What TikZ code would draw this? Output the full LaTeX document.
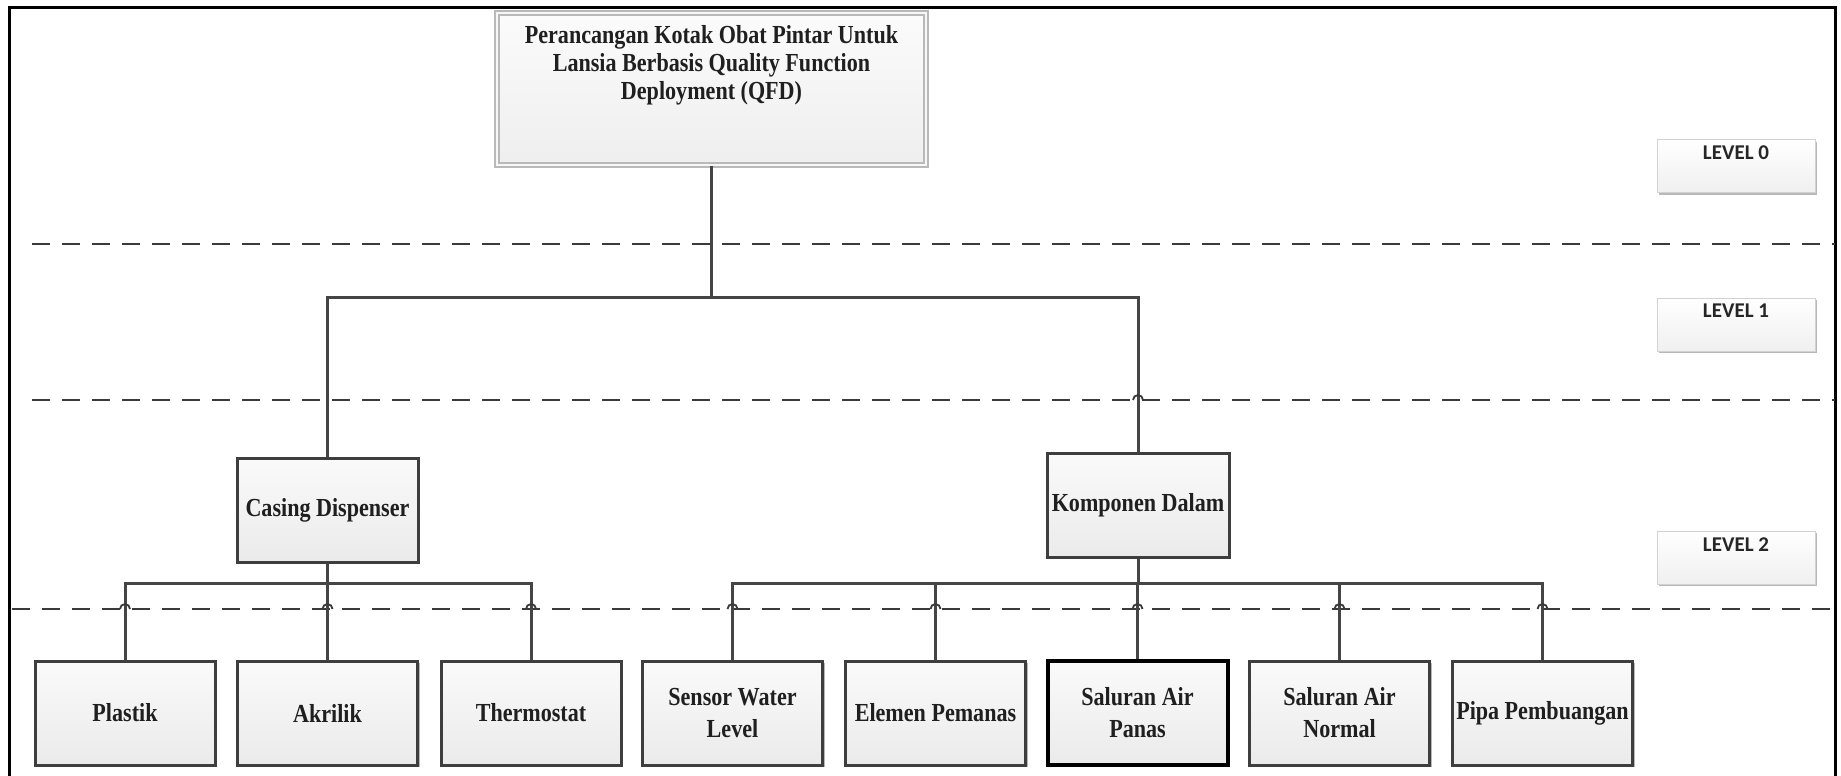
\documentclass[tikz,border=0pt]{standalone}
\usepackage{fontspec}
\newfontfamily\boxfont[FakeStretch=0.85]{Liberation Serif}
\newfontfamily\levelfont{Carlito}
\usetikzlibrary{shadows}
\definecolor{edgegray}{HTML}{3E3E3E}
\definecolor{linegray}{HTML}{454545}
\definecolor{dashgray}{HTML}{3A3A3A}
\begin{document}
\begin{tikzpicture}[x=0.5pt, y=-0.5pt,
  softshadow/.style={drop shadow={shadow xshift=1.2pt, shadow yshift=-1.2pt, opacity=0.28, fill=black}},
  box/.style={draw=edgegray, line width=1.5pt, top color=gray!4, bottom color=gray!16,
    softshadow, inner xsep=1pt, inner ysep=1pt, align=center, text=black!88,
    font=\boxfont\bfseries\fontsize{13}{16}\selectfont},
  leafbox/.style={box, minimum width=90pt, minimum height=52pt},
  midbox/.style={box, minimum width=90.5pt, minimum height=52pt},
  topbox/.style={draw=gray!55, line width=0.7pt, double=gray!6, double distance=1.2pt,
    top color=gray!3, bottom color=gray!13, softshadow,
    minimum width=214.5pt, minimum height=76pt},
  toptext/.style={align=center, inner sep=0pt, text=black!88,
    font=\boxfont\bfseries\fontsize{13}{14}\selectfont},
  lvbox/.style={draw=gray!35, line width=0.5pt, top color=white, bottom color=gray!12,
    softshadow, minimum width=79pt, minimum height=26.5pt},
  lvtext/.style={inner sep=0pt, text=black!85, font=\levelfont\bfseries\fontsize{10.5}{12}\selectfont},
  conn/.style={draw=linegray, line width=1.5pt},
  guide/.style={draw=dashgray, line width=1pt, dash pattern=on 9pt off 6pt},
  hop/.style={draw=dashgray, line width=0.9pt},
  frame/.style={draw=black, line width=1.5pt}]

\useasboundingbox (0,0) rectangle (1841,776);
\fill[white] (0,0) rectangle (1841,776);

% outer frame
\draw[frame] (9,776) -- (9,7) -- (1835,7) -- (1835,776);

% level separators
\draw[guide] (32,244) -- (1835,244);
\draw[guide] (32,400) -- (1835,400);
\draw[guide] (12,609) -- (1835,609);

% level labels
\node[lvbox] (lv0) at (1736,166) {};
\node[lvbox] (lv1) at (1736,324.5) {};
\node[lvbox] (lv2) at (1736,557.5) {};
\node[lvtext] (lv0t) at (1736,153) {LEVEL 0};
\node[lvtext] (lv1t) at (1736,311) {LEVEL 1};
\node[lvtext] (lv2t) at (1736,545) {LEVEL 2};

% level 0
\node[topbox] (root) at (711.5,89) {};
\node[toptext] (roottxt) at (711.5,65) {Perancangan Kotak Obat Pintar Untuk\\Lansia Berbasis Quality Function\\Deployment (QFD)};

% level 1
\node[midbox] (casing) at (327.5,510) {Casing Dispenser};
\node[midbox, minimum width=91pt] (komp) at (1138,505) {Komponen Dalam};

% level 2
\node[leafbox] (plastik) at (125,713) {Plastik};
\node[leafbox] (akrilik) at (327.5,713) {Akrilik};
\node[leafbox] (thermo) at (531,713) {Thermostat};
\node[leafbox] (sensor) at (732.5,713) {Sensor Water\\Level};
\node[leafbox] (elemen) at (935.5,713) {Elemen Pemanas};
\node[leafbox, draw=black, line width=2pt] (panas) at (1137.5,713) {Saluran Air\\Panas};
\node[leafbox] (normal) at (1339.5,713) {Saluran Air\\Normal};
\node[leafbox] (pipa) at (1542.5,713) {Pipa Pembuangan};

% junction points of the buses
\coordinate (bus1) at (711.5,297);
\coordinate (busA) at (327.5,583);
\coordinate (busB) at (1138,583);

% connectors
\draw[conn] (root.south) -- (bus1);
\draw[conn] (casing.north) -- (casing.north |- bus1) -- (komp.north |- bus1) -- (komp.north);
\draw[conn] (casing.south) -- (busA);
\draw[conn] (plastik.north) -- (plastik.north |- busA) -- (thermo.north |- busA) -- (thermo.north);
\draw[conn] (akrilik.north) -- (akrilik.north |- busA);
\draw[conn] (komp.south) -- (busB);
\draw[conn] (sensor.north) -- (sensor.north |- busB) -- (pipa.north |- busB) -- (pipa.north);
\foreach \n in {elemen, panas, normal}
  \draw[conn] (\n.north) -- (\n.north |- busB);

% line jumps where the separators cross the connectors
\draw[hop] (1133,400) arc[start angle=180, end angle=360, radius=5];
\foreach \x in {125,327.5,531,732.5,935.5,1137.5,1339.5,1542.5}
  \draw[hop] (\x-5,609) arc[start angle=180, end angle=360, radius=5];

\end{tikzpicture}
\end{document}
